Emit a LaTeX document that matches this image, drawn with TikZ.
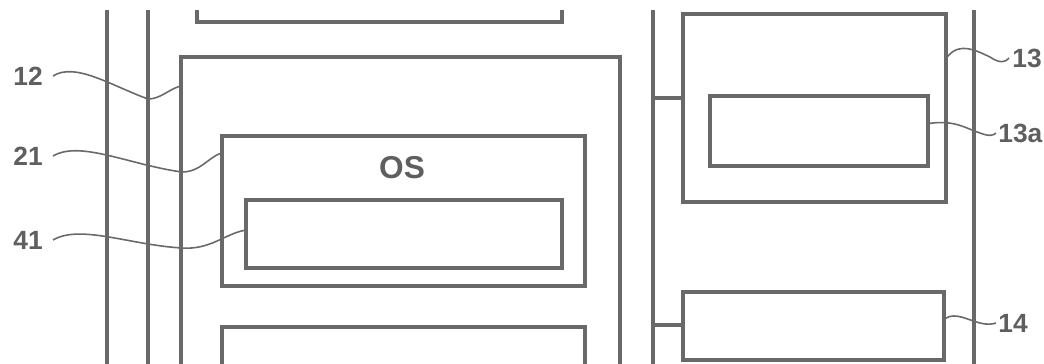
\documentclass[tikz,border=0pt]{standalone}
\usepackage{fontspec}
\setmainfont{Liberation Sans}
\definecolor{linegray}{RGB}{105,105,105}
\definecolor{textgray}{RGB}{95,95,95}
\begin{document}
\begin{tikzpicture}[x=0.02cm,y=-0.02cm,
  box/.style={draw=linegray,line width=1.9pt,rectangle,inner sep=0pt,fill=none},
  bus/.style={draw=linegray,line width=1.9pt},
  lead/.style={draw=linegray,line width=0.9pt},
  lbl/.style={text=textgray,font=\bfseries\fontsize{15}{17}\selectfont,inner sep=0pt,anchor=west}]
\useasboundingbox (0,0) rectangle (1044,363);
\clip (0,10) rectangle (1044,363);
% buses
\coordinate (v1t) at (107,10); \coordinate (v1b) at (107,370);
\coordinate (v2t) at (148,10); \coordinate (v2b) at (148,370);
\coordinate (v3t) at (653,10); \coordinate (v3b) at (653,370);
\coordinate (v4t) at (974,10); \coordinate (v4b) at (974,370);
\draw[bus] (v1t) -- (v1b);
\draw[bus] (v2t) -- (v2b);
\draw[bus] (v3t) -- (v3b);
\draw[bus] (v4t) -- (v4b);
% boxes
\node[box,minimum width=7.3cm,minimum height=1.24cm] (btop) at (379.5,-9) {};
\node[box,minimum width=8.78cm,minimum height=7.26cm] (b12) at (400.5,238.5) {};
\node[box,minimum width=7.26cm,minimum height=3.0cm] (b21) at (403.5,211) {};
\node[box,minimum width=6.32cm,minimum height=1.36cm] (b41) at (404,234) {};
\node[box,minimum width=7.26cm,minimum height=1.86cm] (bbot) at (403.5,373.5) {};
\node[box,minimum width=5.26cm,minimum height=3.76cm] (b13) at (814.5,108) {};
\node[box,minimum width=4.36cm,minimum height=1.4cm] (b13a) at (819,131) {};
\node[box,minimum width=5.22cm,minimum height=1.36cm] (b14) at (813.5,326) {};
\node[text=textgray,font=\bfseries\fontsize{18}{20}\selectfont,inner sep=0pt] (os) at (402,168) {OS};
% bus connectors
\draw[bus] ([yshift=0.2cm]b13.west) -- ([yshift=0.2cm]b13.west -| v3t);
\draw[bus] ([yshift=0.02cm]b14.west) -- ([yshift=0.02cm]b14.west -| v3t);
% labels
\node[lbl] (l12) at (13,76) {12};
\node[lbl] (l21) at (13,156) {21};
\node[lbl] (l41) at (13,240) {41};
\node[lbl] (l13) at (1012,58) {13};
\node[lbl] (l13a) at (998,133) {13a};
\node[lbl] (l14) at (998,323) {14};
% leaders
\draw[lead] ([xshift=0.2cm]l12.east) .. controls (75,62) and (110,85) .. (148,99)
  .. controls (160,99) and (168,90) .. ([yshift=-0.62cm]b12.north west);
\draw[lead] ([xshift=0.2cm]l21.east) .. controls (80,140) and (130,165) .. (182,172)
  .. controls (200,172) and (208,158) .. ([yshift=-0.38cm]b21.north west);
\draw[lead] ([xshift=0.2cm]l41.east) .. controls (80,224) and (130,245) .. (182,248)
  .. controls (210,250) and (225,234) .. ([yshift=-0.64cm]b41.north west);
\draw[lead] ([yshift=-0.88cm]b13.north east) .. controls (960,42) and (975,50) .. (990,57)
  .. controls (1000,64) and (1006,62) .. ([xshift=-0.06cm]l13.west);
\draw[lead] ([yshift=-0.58cm]b13a.north east) .. controls (955,120) and (965,128) .. (980,133)
  .. controls (990,137) and (994,135) .. ([xshift=-0.04cm]l13a.west);
\draw[lead] ([yshift=-0.56cm]b14.north east) .. controls (955,312) and (968,320) .. (980,323)
  .. controls (988,325) and (993,324) .. ([xshift=-0.04cm]l14.west);
\end{tikzpicture}
\end{document}
